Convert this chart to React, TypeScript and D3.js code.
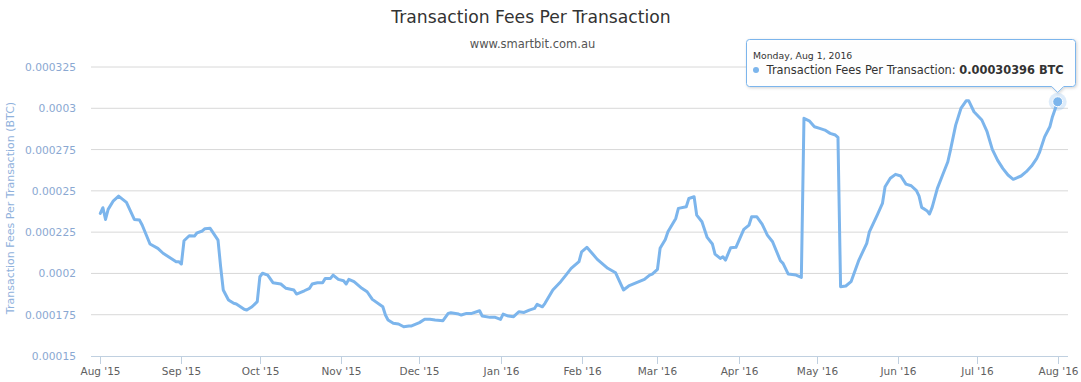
import React from "react";
import * as d3 from "d3";

const TITLE = "Transaction Fees Per Transaction";
const SUBTITLE = "www.smartbit.com.au";
const Y_TITLE = "Transaction Fees Per Transaction (BTC)";
const SERIES_NAME = "Transaction Fees Per Transaction";

const yTicks = [0.00015, 0.000175, 0.0002, 0.000225, 0.00025, 0.000275, 0.0003, 0.000325];
const yTickLabels = ["0.00015", "0.000175", "0.0002", "0.000225", "0.00025", "0.000275", "0.0003", "0.000325"];
const xTicks = ["2015-08-01","2015-09-01","2015-10-01","2015-11-01","2015-12-01","2016-01-01","2016-02-01","2016-03-01","2016-04-01","2016-05-01","2016-06-01","2016-07-01","2016-08-01"];
const xTickLabels = ["Aug '15","Sep '15","Oct '15","Nov '15","Dec '15","Jan '16","Feb '16","Mar '16","Apr '16","May '16","Jun '16","Jul '16","Aug '16"];

const dates = [
"2015-08-01","2015-08-02","2015-08-03","2015-08-04","2015-08-06","2015-08-08","2015-08-11","2015-08-14","2015-08-16","2015-08-17","2015-08-20","2015-08-23","2015-08-25","2015-08-30","2015-08-31",
"2015-09-01","2015-09-02","2015-09-04","2015-09-06","2015-09-07","2015-09-09","2015-09-10","2015-09-12","2015-09-15","2015-09-16","2015-09-17","2015-09-19","2015-09-21","2015-09-22","2015-09-25","2015-09-26","2015-09-28","2015-09-30",
"2015-10-01","2015-10-02","2015-10-04","2015-10-06","2015-10-09","2015-10-11","2015-10-14","2015-10-15","2015-10-18","2015-10-20","2015-10-21","2015-10-23","2015-10-25","2015-10-26","2015-10-28","2015-10-29","2015-10-31",
"2015-11-02","2015-11-03","2015-11-04","2015-11-06","2015-11-09","2015-11-11","2015-11-13","2015-11-17","2015-11-18","2015-11-19","2015-11-21","2015-11-23","2015-11-25","2015-11-27","2015-11-28",
"2015-12-01","2015-12-03","2015-12-05","2015-12-07","2015-12-10","2015-12-12","2015-12-13","2015-12-16","2015-12-17","2015-12-19","2015-12-21","2015-12-24","2015-12-25","2015-12-28","2015-12-30",
"2016-01-01","2016-01-02","2016-01-04","2016-01-06","2016-01-08","2016-01-10","2016-01-12","2016-01-14","2016-01-15","2016-01-17","2016-01-18","2016-01-21","2016-01-24","2016-01-26","2016-01-28","2016-01-31",
"2016-02-01","2016-02-03","2016-02-05","2016-02-07","2016-02-11","2016-02-14","2016-02-17","2016-02-19","2016-02-22","2016-02-25","2016-02-27","2016-02-28",
"2016-03-01","2016-03-02","2016-03-04","2016-03-05","2016-03-08","2016-03-09","2016-03-12","2016-03-13","2016-03-15","2016-03-16","2016-03-18","2016-03-20","2016-03-22","2016-03-23","2016-03-25","2016-03-26","2016-03-27","2016-03-29","2016-03-31",
"2016-04-03","2016-04-05","2016-04-06","2016-04-08","2016-04-10","2016-04-12","2016-04-14","2016-04-17","2016-04-18","2016-04-20","2016-04-23","2016-04-25","2016-04-26","2016-04-28","2016-04-30",
"2016-05-02","2016-05-04","2016-05-06","2016-05-08","2016-05-09","2016-05-10","2016-05-12","2016-05-14","2016-05-17","2016-05-20","2016-05-21","2016-05-24","2016-05-26","2016-05-27","2016-05-29","2016-05-31",
"2016-06-02","2016-06-04","2016-06-06","2016-06-08","2016-06-09","2016-06-10","2016-06-12","2016-06-13","2016-06-14","2016-06-16","2016-06-18","2016-06-20","2016-06-21","2016-06-23","2016-06-25","2016-06-27","2016-06-28","2016-06-30",
"2016-07-03","2016-07-05","2016-07-07","2016-07-09","2016-07-11","2016-07-13","2016-07-15","2016-07-18","2016-07-20","2016-07-22","2016-07-24","2016-07-25","2016-07-27","2016-07-29","2016-07-30",
"2016-08-01"
];

const values = [
0.0002364,0.0002398,0.0002327,0.0002388,0.000244,0.0002468,0.000243,0.0002327,0.0002323,0.0002293,0.0002178,0.0002152,0.0002122,0.0002071,0.0002071,
0.0002057,0.0002198,0.0002228,0.0002226,0.0002246,0.0002257,0.0002271,0.0002273,0.0002202,0.0002041,0.00019,0.0001839,0.0001819,0.0001815,0.0001783,0.0001778,0.0001798,0.0001829,
0.000198,0.0002001,0.000199,0.0001944,0.0001936,0.000191,0.00019,0.0001875,0.0001895,0.000191,0.0001936,0.0001944,0.0001944,0.000197,0.000197,0.000199,0.0001964,
0.0001956,0.0001936,0.0001964,0.000195,0.000191,0.0001889,0.0001843,0.0001798,0.0001748,0.0001718,0.0001698,0.0001694,0.0001677,0.0001682,0.0001682,
0.0001702,0.0001722,0.0001722,0.0001718,0.0001714,0.0001758,0.0001762,0.0001754,0.0001748,0.0001758,0.0001758,0.0001774,0.0001742,0.0001734,0.0001734,
0.0001722,0.0001754,0.0001742,0.0001738,0.0001768,0.0001764,0.0001778,0.0001788,0.0001813,0.0001798,0.0001819,0.00019,0.000195,0.000199,0.0002031,0.0002071,
0.0002131,0.0002158,0.0002122,0.0002085,0.0002031,0.0002004,0.00019,0.0001924,0.0001944,0.0001964,0.000199,0.0001996,
0.0002025,0.0002152,0.0002206,0.0002252,0.0002333,0.0002394,0.0002404,0.0002454,0.0002464,0.0002353,0.0002313,0.0002218,0.0002178,0.0002117,0.0002091,0.0002101,0.0002081,0.0002156,0.0002158,
0.0002267,0.0002293,0.0002343,0.0002343,0.0002299,0.0002232,0.0002192,0.0002077,0.0002061,0.0001996,0.000199,0.0001976,0.0002939,0.0002924,0.0002888,
0.0002878,0.0002868,0.0002848,0.0002838,0.0002824,0.0001919,0.0001924,0.000195,0.0002081,0.0002182,0.0002252,0.0002353,0.0002424,0.0002525,0.0002576,0.00026,
0.000259,0.0002541,0.0002531,0.0002501,0.0002468,0.00024,0.000238,0.000236,0.00024,0.0002515,0.0002596,0.0002676,0.0002747,0.0002898,0.0002999,0.0003045,0.0003045,0.0002979,
0.0002929,0.0002858,0.0002751,0.0002686,0.0002636,0.0002596,0.000257,0.000259,0.0002616,0.000265,0.0002697,0.0002731,0.0002827,0.0002888,0.0002949,
0.00030396
];

const FONT = "'DejaVu Sans', Verdana, sans-serif";
const W = 1081, H = 382;
const parse = d3.timeParse("%Y-%m-%d");

export default function App() {
  const x = d3.scaleTime()
    .domain([parse("2015-08-01")!, parse("2016-08-01")!])
    .range([100.3, 1057.7]);
  const y = d3.scaleLinear().domain([0.00015, 0.000325]).range([356, 67]);
  const data = dates.map((d, i) => ({ date: parse(d)!, value: values[i] }));
  const line = d3.line<{ date: Date; value: number }>()
    .x(d => x(d.date))
    .y(d => y(d.value));
  const plotLeft = 91, plotRight = 1068;
  const last = data[data.length - 1];
  const px = x(last.date), py = y(last.value);

  return (
    <svg width={W} height={H} style={{ position: "absolute", left: 0, top: 0, fontFamily: FONT }}>
      <defs>
        <filter id="shadow" x="-10%" y="-20%" width="130%" height="160%">
          <feDropShadow dx="1" dy="1" stdDeviation="1.5" floodColor="#000" floodOpacity="0.18" />
        </filter>
      </defs>
      <rect width={W} height={H} fill="#fff" />
      <text x={531} y={23} textAnchor="middle" fontSize={17.2} fill="#333">{TITLE}</text>
      <text x={532.5} y={48} textAnchor="middle" fontSize={11.5} fill="#555">{SUBTITLE}</text>
      {yTicks.map((t, i) => (
        <g key={"y" + i}>
          {i > 0 && <line x1={plotLeft} x2={plotRight} y1={y(t)} y2={y(t)} stroke="#D8D8D8" strokeWidth={1} />}
          <text x={76} y={y(t) + 4} textAnchor="end" fontSize={10.7} fill="#8aa8d2">{yTickLabels[i]}</text>
        </g>
      ))}
      <text transform={`translate(14,208) rotate(-90)`} textAnchor="middle" fontSize={11} fill="#8fb1dc">{Y_TITLE}</text>
      <line x1={plotLeft} x2={plotRight} y1={356.5} y2={356.5} stroke="#C0D0E0" strokeWidth={1} />
      {xTicks.map((t, i) => {
        const xx = Math.round(x(parse(t)!)) + 0.5;
        return (
          <g key={"x" + i}>
            <line x1={xx} x2={xx} y1={356} y2={364} stroke="#C0D0E0" strokeWidth={1} />
            <text x={xx} y={375} textAnchor="middle" fontSize={10.5} fill="#606060">{xTickLabels[i]}</text>
          </g>
        );
      })}
      <path d={line(data) || ""} fill="none" stroke="#7cb5ec" strokeWidth={3} strokeLinejoin="round" strokeLinecap="round" />
      <circle cx={px} cy={py} r={9} fill="#7cb5ec" opacity={0.25} />
      <circle cx={px} cy={py} r={5} fill="#7cb5ec" stroke="#fff" strokeWidth={1} />
      <g filter="url(#shadow)">
        <path d={`M749.5,39.5 H1072.5 Q1075.5,39.5 1075.5,42.5 V83.5 Q1075.5,86.5 1072.5,86.5 H${px + 6} L${px},${92.5} L${px - 6},86.5 H749.5 Q746.5,86.5 746.5,83.5 V42.5 Q746.5,39.5 749.5,39.5 Z`}
          fill="rgba(255,255,255,0.96)" stroke="#7cb5ec" strokeWidth={1} />
      </g>
      <text x={753} y={58.5} fontSize={9.3} fill="#333">Monday, Aug 1, 2016</text>
      <circle cx={756} cy={70} r={3} fill="#7cb5ec" />
      <text x={763} y={74} fontSize={11.4} fill="#333">
        <tspan>{"\u00a0" + SERIES_NAME + ": "}</tspan>
        <tspan fontWeight="bold">{"0.00030396 BTC"}</tspan>
      </text>
    </svg>
  );
}
